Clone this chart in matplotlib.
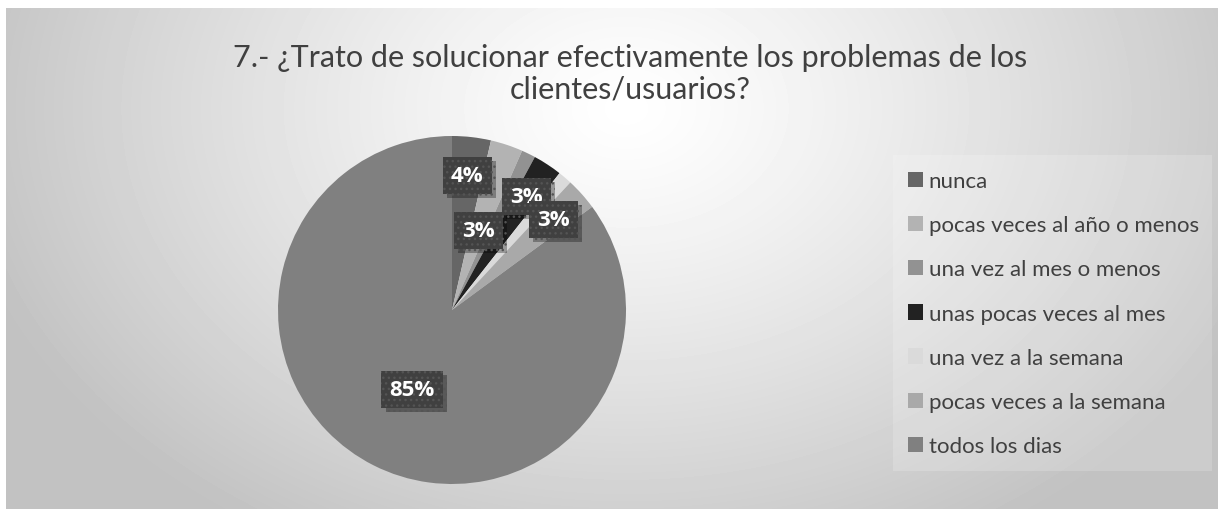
import matplotlib.pyplot as plt
import matplotlib.patheffects as pe
import numpy as np
from matplotlib.patches import Patch, Rectangle

categorias = ['nunca', 'pocas veces al año o menos', 'una vez al mes o menos',
              'unas pocas veces al mes', 'una vez a la semana',
              'pocas veces a la semana', 'todos los dias']
porcentajes = [3.6, 3.0, 1.3, 2.7, 1.3, 3.0, 85.1]
colores = ['#666666', '#b3b3b3', '#929292', '#222222', '#dadada', '#a9a9a9', '#808080']
# distance of each label from the centre (None = no label shown)
dist_etiqueta = [0.78, 0.48, None, 0.78, None, 0.78, 0.51]
titulo = '7.- ¿Trato de solucionar efectivamente los problemas de los\nclientes/usuarios?'

W, H = 1218, 510
fig = plt.figure(figsize=(W / 100, H / 100), dpi=100)
fig.patch.set_facecolor('white')

# background of the chart area: radial gray gradient
bg = fig.add_axes([6 / W, 0, 1 - 6 / W, 1 - 9 / H])
yy, xx = np.mgrid[0:H - 9, 0:W - 6]
d = np.sqrt(((xx - 620) / 680.0) ** 2 + ((yy - 100) / 500.0) ** 2)
d = np.clip(d, 0, 1)
val = 1.0 - 0.24 * d ** 1.2
bg.imshow(val, cmap='gray', vmin=0, vmax=1, aspect='auto', interpolation='bilinear')
bg.axis('off')

# legend backdrop
fig.patches.append(Rectangle((893 / W, 1 - 472 / H), (1212 - 893) / W, (472 - 156) / H,
                             transform=fig.transFigure, facecolor='white', alpha=0.18,
                             edgecolor='none', zorder=1))

fig.text(630 / W, 1 - 74 / H, titulo, ha='center', va='center', fontsize=22,
         family='Lato', color='#404040', linespacing=1.15)

r = 174
ax = fig.add_axes([(452 - r) / W, (H - 311 - r) / H, 2 * r / W, 2 * r / H])
wedges, _ = ax.pie(porcentajes, colors=colores, startangle=90, counterclock=False,
                   wedgeprops=dict(linewidth=0))
ax.set_xlim(-1, 1)
ax.set_ylim(-1, 1)
ax.axis('off')

for w, p, dist in zip(wedges, porcentajes, dist_etiqueta):
    if dist is None:
        continue
    ang = np.deg2rad((w.theta1 + w.theta2) / 2)
    x, y = dist * np.cos(ang), dist * np.sin(ang)
    t = ax.text(x, y, '%d%%' % round(p), ha='center', va='center', fontsize=16,
                fontweight='bold', family='Open Sans', color='white',
                bbox=dict(boxstyle='square,pad=0.36', fc='#404040', ec='#545454',
                          lw=0, hatch='...'))
    t.get_bbox_patch().set_path_effects(
        [pe.SimplePatchShadow(offset=(3, -3), shadow_rgbFace='black', alpha=0.3), pe.Normal()])

handles = [Patch(facecolor=c, edgecolor='none') for c in colores]
fig.legend(handles, categorias, loc='upper left', bbox_to_anchor=(888 / W, 1 - 152 / H),
           frameon=False, prop={'family': 'Lato', 'size': 16},
           handlelength=0.68, handleheight=0.68, handletextpad=0.25,
           labelspacing=1.09, labelcolor='#404040')

fig.savefig('out.png', dpi=100)
